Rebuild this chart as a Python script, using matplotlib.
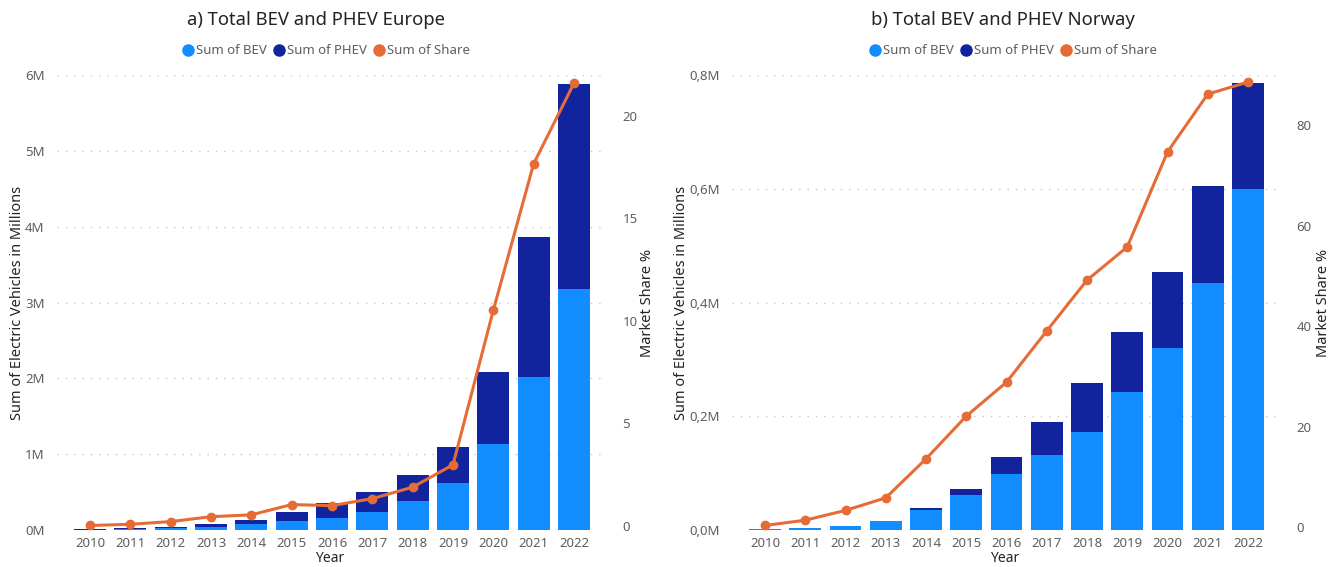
import numpy as np
import matplotlib.pyplot as plt
from matplotlib.lines import Line2D

plt.rcParams['font.family'] = ['Noto Sans', 'DejaVu Sans']

years = [str(y) for y in range(2010, 2023)]

# Europe, millions of vehicles / market share %
eu_bev = [0.005, 0.012, 0.025, 0.045, 0.08, 0.12, 0.16, 0.24, 0.38, 0.616, 1.13, 2.02, 3.18]
eu_phev = [0.002, 0.008, 0.01, 0.035, 0.05, 0.12, 0.19, 0.26, 0.35, 0.479, 0.96, 1.85, 2.70]
eu_share = [0.02, 0.08, 0.21, 0.45, 0.54, 1.04, 0.99, 1.33, 1.89, 2.98, 10.52, 17.67, 21.6]

# Norway
no_bev = [0.001, 0.004, 0.007, 0.016, 0.036, 0.0615, 0.098, 0.131, 0.173, 0.243, 0.3195, 0.434, 0.599]
no_phev = [0.0, 0.0, 0.0, 0.0, 0.003, 0.01, 0.030, 0.059, 0.086, 0.105, 0.1345, 0.171, 0.187]
no_share = [0.4, 1.45, 3.4, 5.9, 13.65, 22.15, 28.9, 39.1, 49.2, 55.8, 74.7, 86.2, 88.6]

eu_yticks = [0, 1, 2, 3, 4, 5, 6]
eu_ylabels = ['0M', '1M', '2M', '3M', '4M', '5M', '6M']
eu_rticks = [0, 5, 10, 15, 20]
no_yticks = [0, 0.2, 0.4, 0.6, 0.8]
no_ylabels = ['0,0M', '0,2M', '0,4M', '0,6M', '0,8M']
no_rticks = [0, 20, 40, 60, 80]

BEV = '#118DFF'
PHEV = '#12239E'
SHARE = '#E66C37'
TICK = '#605E5C'
DARK = '#252423'

W, H = 1338, 567
fig = plt.figure(figsize=(W / 100, H / 100), dpi=100)


def draw(rect, bev, phev, share, yticks, ylabels, ymax, rticks, rlim, title, tcx, rpad):
    ax = fig.add_axes(rect)
    x = np.arange(len(years))
    ax.bar(x, bev, width=0.79, color=BEV, zorder=2)
    ax.bar(x, phev, width=0.79, bottom=bev, color=PHEV, zorder=2)
    ax.set_xlim(-0.82, 12.72)
    ax.set_ylim(0, ymax)
    ax.set_yticks(yticks)
    ax.set_yticklabels(ylabels)
    ax.set_xticks(x)
    ax.set_xticklabels(years)
    ax.grid(axis='y', color='#C8C6C4', linestyle=(0, (1, 5)), linewidth=1.0, zorder=0)
    for s in ax.spines.values():
        s.set_visible(False)
    ax.tick_params(axis='both', length=0, colors=TICK, labelsize=9.5)
    ax.tick_params(axis='y', pad=9)
    ax.tick_params(axis='x', pad=5)
    ax.set_xlabel('Year', color=DARK, fontsize=10, labelpad=0.5)
    ax.set_ylabel('Sum of Electric Vehicles in Millions', color=DARK, fontsize=10.5, labelpad=0)

    ax2 = ax.twinx()
    ax2.plot(x, share, color=SHARE, linewidth=2.2, marker='o', markersize=6, zorder=3)
    ax2.set_ylim(*rlim)
    ax2.set_yticks(rticks)
    for s in ax2.spines.values():
        s.set_visible(False)
    ax2.tick_params(axis='y', length=0, colors=TICK, labelsize=9.5, pad=14)
    ax2.set_ylabel('Market Share %', color=DARK, fontsize=10.5, labelpad=rpad)

    fig.text(tcx / W, 1 - 20 / H, title, ha='center', va='center',
             fontsize=13.3, color=DARK, fontweight='semibold')
    handles = [Line2D([], [], linestyle='none', marker='o', markersize=8, color=c)
               for c in (BEV, PHEV, SHARE)]
    fig.legend(handles, ['Sum of BEV', 'Sum of PHEV', 'Sum of Share'], loc='center',
               bbox_to_anchor=((tcx + 10) / W, 1 - 51 / H), ncol=3, frameon=False,
               fontsize=9.5, labelcolor=TICK, handletextpad=0.15, columnspacing=0.5,
               handlelength=0.9)


bottom = (H - 530) / H
height = (530 - 75) / H
draw([57 / W, bottom, 546 / W, height], eu_bev, eu_phev, eu_share,
     eu_yticks, eu_ylabels, 6, eu_rticks, (-0.2, 22.0),
     'a) Total BEV and PHEV Europe', 316, 1.5)
draw([732 / W, bottom, 545 / W, height], no_bev, no_phev, no_share,
     no_yticks, no_ylabels, 0.8, no_rticks, (-0.5, 90.0),
     'b) Total BEV and PHEV Norway', 1003, 3.5)

fig.savefig('out.png', dpi=100)
